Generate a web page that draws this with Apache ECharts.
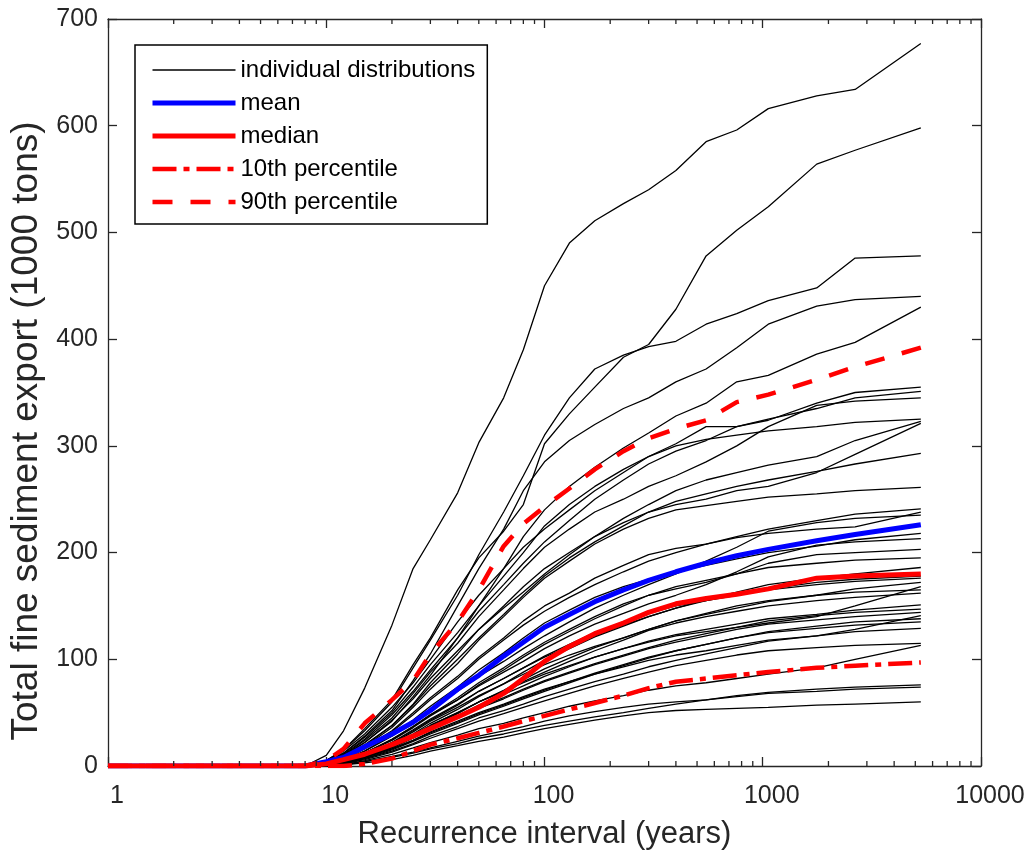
<!DOCTYPE html>
<html>
<head>
<meta charset="utf-8">
<script src="https://cdn.jsdelivr.net/npm/echarts@6/dist/echarts.min.js"></script>
<style>
  html, body { margin: 0; padding: 0; background: #fff; }
  #chart { width: 1031px; height: 855px; }
</style>
</head>
<body>
<div id="chart"></div>
<script>
// recurrence intervals (years) shared by every curve
const RI = [1, 8, 10, 12, 15, 20, 25, 30, 40, 50, 65, 80, 100, 130, 170, 230, 300, 400, 550, 760, 1060, 1767, 2650, 5300];

// individual distributions, total fine sediment export (1000 tons) at each RI
const INDIVIDUAL = [
  [0,0,10,33,73,132,185,212,256,303,345,390,450,490,511,527,540,558,585,596,616,628,634,677],
  [0,0,5,15,35,62,95,120,165,195,220,245,302,330,355,383,395,428,478,502,524,564,577,598],
  [0,0,5,15,33,60,92,118,160,198,238,272,310,345,372,385,393,398,414,424,436,448,476,478],
  [0,0,4,12,28,52,80,105,150,185,222,258,285,305,320,335,345,360,372,392,414,431,437,440],
  [0,0,3,10,22,42,65,85,120,150,185,215,240,262,280,298,312,328,340,360,366,386,397,430],
  [0,0,5,14,30,55,78,100,135,160,185,205,222,240,258,275,290,302,318,318,324,340,350,355],
  [0,0,3,11,25,48,70,90,120,145,170,190,210,230,250,268,283,295,305,318,325,335,345,351],
  [0,0,3,10,24,45,68,88,115,140,165,185,205,222,238,250,262,272,285,300,318,338,342,345],
  [0,0,4,12,27,50,74,95,125,150,178,200,225,245,262,278,290,300,306,310,314,318,322,325],
  [0,0,2,9,22,43,63,82,108,128,148,163,180,198,215,232,245,258,268,275,282,290,305,323],
  [0,0,2,8,20,38,58,78,105,128,150,168,185,200,215,228,238,245,250,258,262,275,292,321],
  [0,0,2,8,19,38,57,75,100,120,142,160,178,195,210,225,238,248,255,262,268,276,283,293],
  [0,0,2,7,18,36,55,72,96,118,140,158,176,192,208,222,232,240,244,248,252,255,258,261],
  [0,0,1,6,16,32,48,62,82,100,118,132,145,158,170,182,192,200,208,215,222,230,236,241],
  [0,0,2,7,17,33,50,64,84,102,120,136,150,162,176,188,198,204,208,214,218,222,224,238],
  [0,0,1,5,14,28,41,53,70,84,98,110,122,135,148,160,170,180,192,205,220,228,232,235],
  [0,0,1,5,14,29,43,56,74,90,106,120,134,146,158,168,175,182,188,194,200,206,212,218],
  [0,0,1,4,12,25,37,48,62,75,88,98,110,122,133,143,152,160,170,182,196,207,210,213],
  [0,0,1,4,12,25,37,48,64,78,92,104,116,128,140,152,160,166,172,180,190,198,200,203],
  [0,0,1,4,12,24,36,47,62,76,90,102,114,126,138,150,160,168,174,180,186,190,193,195],
  [0,0,1,4,11,22,34,44,58,70,82,92,102,112,122,132,140,148,156,163,170,176,180,186],
  [0,0,1,4,10,20,30,40,53,65,77,88,99,110,121,131,140,148,155,161,166,172,175,178],
  [0,0,1,4,11,22,33,43,57,70,82,92,103,114,125,135,143,150,155,160,165,170,173,176],
  [0,0,1,3,10,21,32,42,55,66,77,86,95,104,112,120,128,136,142,148,154,160,166,172],
  [0,0,1,3,9,19,29,38,50,60,70,78,86,94,102,110,116,122,126,130,134,140,150,168],
  [0,0,1,3,9,18,28,37,49,60,71,81,91,101,111,120,128,136,143,150,155,160,163,165],
  [0,0,1,3,9,19,29,38,50,60,70,79,88,98,108,118,127,134,140,145,150,155,158,162],
  [0,0,1,3,9,18,27,36,47,57,67,75,84,93,102,110,117,123,128,133,138,142,146,151],
  [0,0,1,3,9,18,27,35,46,55,64,72,80,88,96,104,111,118,124,130,136,141,144,147],
  [0,0,1,3,8,17,26,34,45,54,63,71,79,87,95,103,110,116,122,128,133,137,140,144],
  [0,0,1,3,8,16,24,32,42,50,58,65,72,79,86,93,99,104,108,113,118,122,128,141],
  [0,0,0,2,7,15,23,30,40,48,56,63,70,78,86,94,101,108,114,120,126,131,135,138],
  [0,0,0,2,8,16,24,31,41,49,57,64,71,79,87,95,102,108,114,120,125,129,132,135],
  [0,0,0,2,7,14,21,28,37,45,52,58,65,72,79,86,93,99,105,111,117,122,126,129],
  [0,0,0,2,6,13,20,26,35,42,49,55,61,68,75,82,88,94,99,104,108,111,113,115],
  [0,0,0,1,5,11,17,22,29,35,40,45,50,56,61,66,71,75,78,82,86,92,100,113],
  [0,0,0,1,4,8,12,16,21,26,30,34,38,42,46,50,54,58,62,66,69,72,74,76],
  [0,0,0,1,4,9,13,17,23,28,33,37,42,47,51,55,58,60,62,65,68,70,72,74],
  [0,0,0,1,3,6,10,14,19,23,27,31,35,39,43,47,50,52,53,54,55,57,58,60]
];

const MEAN   = [0,0,4,8,18,30,41,52,72,85,103,116,130,142,154,165,174,182,190,197,203,211,217,226];
const MEDIAN = [0,0,2,6,11,20,28,35,46,55,68,82,98,112,124,134,144,152,157,161,166,176,178,180];
const P10    = [0,0,0,0,2,7,14,20,26,31,37,42,47,53,59,66,73,79,82,85,88,92,94,97];
const P90    = [0,0,5,16,40,62,80,105,135,165,206,227,243,260,278,295,307,316,324,341,348,362,374,392];

const MINOR_TICKS = [2,3,4,5,6,7,8,9, 20,30,40,50,60,70,80,90, 200,300,400,500,600,700,800,900, 2000,3000,4000,5000,6000,7000,8000,9000];

const FONT = '"Liberation Sans", Arial, sans-serif';
const AXIS_COLOR = '#262626';

const chart = echarts.init(document.getElementById('chart'));

const toPairs = (ys) => RI.map((x, i) => [x, ys[i]]);

const individualSeries = INDIVIDUAL.map((ys) => ({
  name: 'individual distributions',
  type: 'line',
  symbol: 'none',
  silent: true,
  z: 3,
  data: toPairs(ys),
  lineStyle: { color: '#000', width: 1.3 },
  itemStyle: { color: '#000' },
}));

// drawn in legend order, later ones on top
const statSeries = [
  {
    name: 'mean',
    data: toPairs(MEAN),
    lineStyle: { color: '#0000ff', width: 5 },
  },
  {
    name: 'median',
    data: toPairs(MEDIAN),
    lineStyle: { color: '#ff0000', width: 5 },
  },
  {
    name: '10th percentile',
    data: toPairs(P10),
    lineStyle: { color: '#ff0000', width: 4.5, type: [24, 7, 6, 7] },
  },
  {
    name: '90th percentile',
    data: toPairs(P90),
    lineStyle: { color: '#ff0000', width: 4.5, type: [20, 18] },
  },
].map((s) => ({
  ...s,
  type: 'line',
  symbol: 'none',
  silent: true,
  z: 4,
  itemStyle: { color: s.lineStyle.color },
}));

const minorTickSeries = {
  type: 'custom',
  silent: true,
  z: 5,
  data: MINOR_TICKS.map((v) => [v, 0]),
  encode: { x: 0, y: 1 },
  renderItem: (params, api) => {
    const b = api.coord([api.value(0), 0]);
    const t = api.coord([api.value(0), 700]);
    const st = { stroke: AXIS_COLOR, lineWidth: 1.3 };
    return {
      type: 'group',
      children: [
        { type: 'line', shape: { x1: b[0], y1: b[1], x2: b[0], y2: b[1] - 5 }, style: st },
        { type: 'line', shape: { x1: t[0], y1: t[1], x2: t[0], y2: t[1] + 5 }, style: st },
      ],
    };
  },
};

const logAxisBase = {
  type: 'log',
  logBase: 10,
  min: 1,
  max: 10000,
  axisLine: { show: true, onZero: false, lineStyle: { color: AXIS_COLOR, width: 1.3 } },
  axisTick: { show: true, inside: true, length: 9, lineStyle: { color: AXIS_COLOR, width: 1.3 } },
  minorTick: { show: false },
  splitLine: { show: false },
};

const valueAxisBase = {
  type: 'value',
  min: 0,
  max: 700,
  interval: 100,
  axisLine: { show: true, onZero: false, lineStyle: { color: AXIS_COLOR, width: 1.3 } },
  axisTick: { show: true, inside: true, length: 9, lineStyle: { color: AXIS_COLOR, width: 1.3 } },
  splitLine: { show: false },
};

const option = {
  animation: false,
  backgroundColor: '#fff',
  grid: {
    left: 108,
    right: 50,
    top: 19,
    bottom: 89,
    containLabel: false,
    outerBoundsMode: 'none',
  },
  legend: {
    orient: 'vertical',
    left: 135,
    top: 45,
    padding: [13, 12, 10, 15],
    itemGap: 9,
    itemWidth: 83,
    itemHeight: 20,
    backgroundColor: '#fff',
    borderColor: '#000',
    borderWidth: 1.5,
    selectedMode: false,
    itemStyle: { opacity: 0 },
    textStyle: { fontFamily: FONT, fontSize: 24, color: '#000' },
    data: [
      { name: 'individual distributions', lineStyle: { width: 1.5 } },
      { name: 'mean', lineStyle: { width: 5 } },
      { name: 'median', lineStyle: { width: 5 } },
      { name: '10th percentile', lineStyle: { width: 4.5 } },
      { name: '90th percentile', lineStyle: { width: 4.5 } },
    ],
  },
  xAxis: [
    {
      ...logAxisBase,
      position: 'bottom',
      axisLabel: {
        color: AXIS_COLOR,
        fontFamily: FONT,
        fontSize: 25,
        margin: 18,
        padding: [0, 0, 0, 18],
        formatter: (v) => String(Math.round(v)),
      },
      name: 'Recurrence interval (years)',
      nameLocation: 'middle',
      nameGap: 53,
      nameTextStyle: { color: AXIS_COLOR, fontFamily: FONT, fontSize: 31, lineHeight: 31 },
    },
    {
      ...logAxisBase,
      position: 'top',
      axisLabel: { show: false },
    },
  ],
  yAxis: [
    {
      ...valueAxisBase,
      position: 'left',
      axisLabel: { color: AXIS_COLOR, fontFamily: FONT, fontSize: 25, margin: 10 },
    },
    {
      ...valueAxisBase,
      position: 'right',
      axisLabel: { show: false },
    },
  ],
  graphic: [
    {
      type: 'text',
      x: 27,
      y: 431,
      rotation: Math.PI / 2,
      silent: true,
      style: {
        text: 'Total fine sediment export (1000 tons)',
        font: '37px "Liberation Sans", Arial, sans-serif',
        fill: AXIS_COLOR,
        align: 'center',
        verticalAlign: 'middle',
        textAlign: 'center',
        textVerticalAlign: 'middle',
      },
    },
  ],
  series: [...individualSeries, ...statSeries, minorTickSeries],
};

chart.setOption(option);

window.addEventListener('resize', () => chart.resize());
</script>
</body>
</html>
